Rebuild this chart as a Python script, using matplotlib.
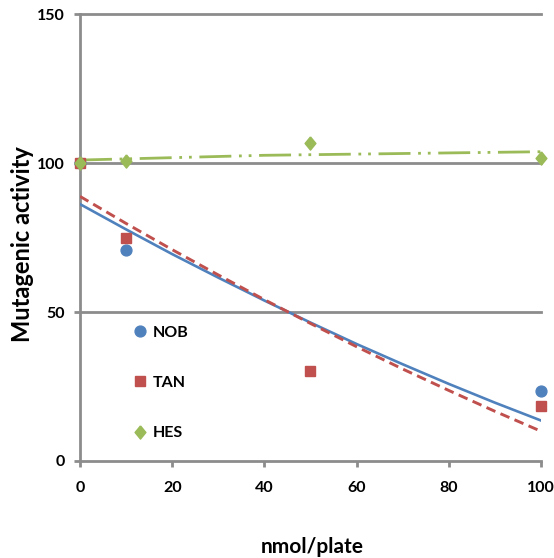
import matplotlib
matplotlib.use("Agg")
import matplotlib.pyplot as plt
import numpy as np

# ---- data ----
doses = [0, 10, 50, 100]
nob = [100, 70.8, np.nan, 23.4]   # value at 50 is not visible in the reference
tan = [100, 75.0, 30.3, 18.5]
hes = [100.1, 100.9, 106.7, 101.7]

trend_x = [0, 10, 20, 30, 40, 50, 60, 70, 80, 90, 100]
nob_trend = [86.3, 77.8, 69.5, 61.6, 53.9, 46.5, 39.3, 32.5, 25.9, 19.6, 13.6]
tan_trend = [88.9, 79.8, 71.0, 62.5, 54.2, 46.2, 38.4, 30.9, 23.7, 16.7, 10.0]
hes_trend = [101.1, 101.5, 101.9, 102.3, 102.7, 102.9, 103.1, 103.3, 103.5, 103.7, 103.9]

series_names = ["NOB", "TAN", "HES"]
x_ticks = [0, 20, 40, 60, 80, 100]
y_ticks = [0, 50, 100, 150]
x_label = "nmol/plate"
y_label = "Mutagenic activity"

# ---- style ----
plt.rcParams['font.family'] = ['Lato', 'DejaVu Sans']
plt.rcParams['font.weight'] = 'bold'
plt.rcParams['lines.scale_dashes'] = False

BLUE = "#4F81BD"
RED = "#C0504D"
GREEN = "#9BBB59"
GRAY = "#8C8C8C"

W, H = 554, 558
fig = plt.figure(figsize=(W / 100, H / 100), dpi=100)
ax = fig.add_axes([80 / W, 1 - 461 / H, 461 / W, 446.5 / H])

ax.set_xlim(0, 100)
ax.set_ylim(0, 150)

# grid lines
for yv in y_ticks[1:]:
    ax.axhline(yv, color=GRAY, lw=2.0, zorder=1, clip_on=False)

for s in ["top", "right"]:
    ax.spines[s].set_visible(False)
for s in ["left", "bottom"]:
    ax.spines[s].set_color(GRAY)
    ax.spines[s].set_linewidth(2.0)

ax.set_xticks(x_ticks)
ax.set_yticks(y_ticks)
ax.tick_params(axis='both', colors=GRAY, width=2.0, labelcolor='black', labelsize=11.5)
ax.tick_params(axis='y', length=4, pad=7)
ax.tick_params(axis='x', length=4.5, pad=10)
for lab in ax.get_xticklabels() + ax.get_yticklabels():
    lab.set_fontweight('bold')

# trend lines
ax.plot(trend_x, nob_trend, color=BLUE, lw=1.9, zorder=3)
ax.plot(trend_x, tan_trend, color=RED, lw=2.1, dashes=(7, 4), zorder=3)
ax.plot(trend_x, hes_trend, color=GREEN, lw=2.0,
        dashes=(23, 5.5, 2, 5, 2, 5.5), zorder=3)

# markers
diamond = [(0, 1), (0.82, 0), (0, -1), (-0.82, 0), (0, 1)]
ax.plot(doses, nob, ls='none', marker='o', ms=7.8, color=BLUE, label=series_names[0], zorder=4, clip_on=False)
ax.plot(doses, tan, ls='none', marker='s', ms=7.2, color=RED, label=series_names[1], zorder=4, clip_on=False)
ax.plot(doses, hes, ls='none', marker=diamond, ms=9.5, color=GREEN, label=series_names[2], zorder=4, clip_on=False)

leg = ax.legend(loc='upper left', bbox_to_anchor=(0.117, 0.303), frameon=False,
                fontsize=11.5, handlelength=0.8, handletextpad=0.35,
                labelspacing=2.25, borderaxespad=0, borderpad=0)
for t in leg.get_texts():
    t.set_fontweight('bold')

ax.set_xlabel(x_label, fontsize=15, fontweight='bold', va='center')
ax.xaxis.set_label_coords(0.503, -0.193)
ax.set_ylabel(y_label, fontsize=17, fontweight='bold', va='center')
ax.yaxis.set_label_coords(-0.124, 0.486)

fig.savefig("out.png", dpi=100)
